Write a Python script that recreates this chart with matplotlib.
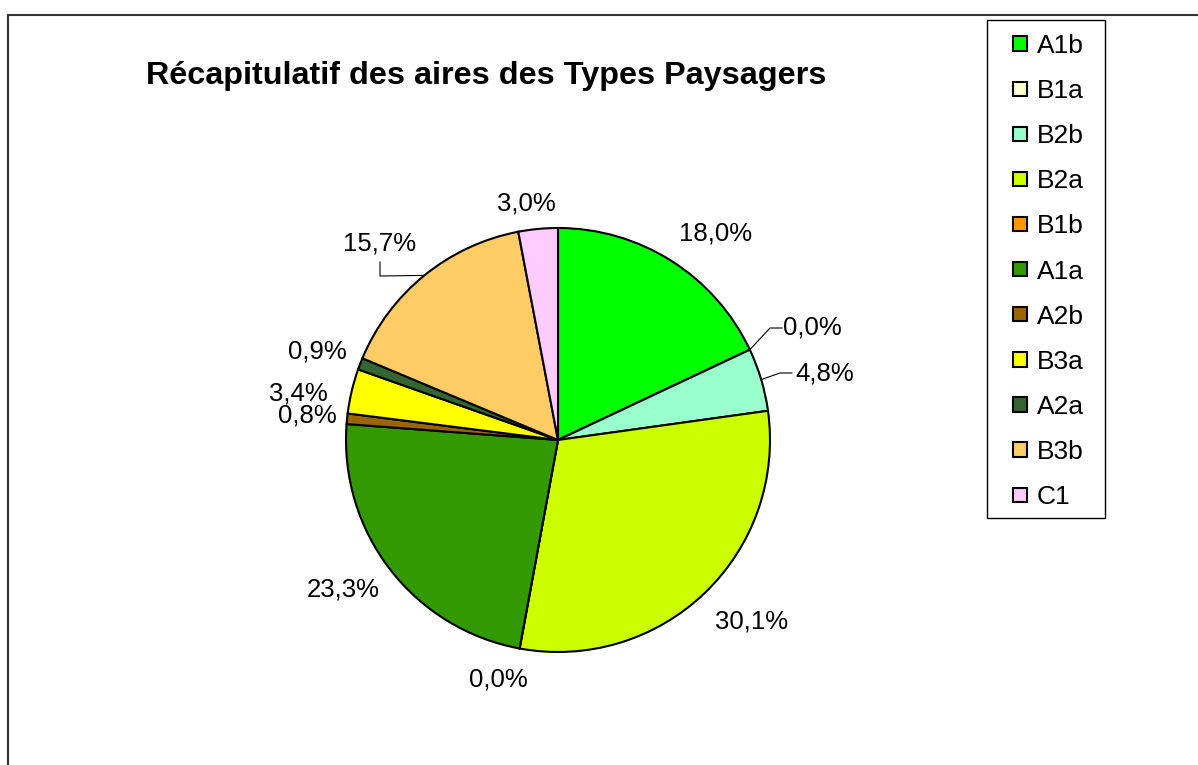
import numpy as np
import matplotlib
matplotlib.use("Agg")
import matplotlib.pyplot as plt
from matplotlib.patches import Rectangle

plt.rcParams["font.family"] = ["Liberation Sans", "DejaVu Sans"]

# Landscape types and their share of total area (%)
types = ["A1b", "B1a", "B2b", "B2a", "B1b", "A1a", "A2b", "B3a", "A2a", "B3b", "C1"]
shares = [18.0, 0.0, 4.8, 30.1, 0.0, 23.3, 0.8, 3.4, 0.9, 15.7, 3.0]
colors = ["#00FF00", "#FFFFCC", "#99FFCC", "#CCFF00", "#FF9900", "#339900",
          "#996600", "#FFFF00", "#336633", "#FFCC66", "#FFCCFF"]
title = "Récapitulatif des aires des Types Paysagers"

W, H, DPI = 1198, 765, 100
CX, CY, R = 558, 440, 212          # pie centre / radius in pixels

# label centres (pixels) and which labels get a leader line
label_px = [(716, 234), (812, 327), (825, 374), (752, 622), (498, 680),
            (343, 590), (307, 415), (298, 393), (317, 352), (380, 243), (526, 203)]
leaders = {1: [(770, 328), (782, 328)],
           2: [(780, 373), (792, 373)],
           9: [(380, 276), (380, 262)]}


def to_data(px, py):
    return (px - CX) / R, (CY - py) / R


fig = plt.figure(figsize=(W / DPI, H / DPI), dpi=DPI)
fig.patch.set_facecolor("white")

ax = fig.add_axes([0, 0, 1, 1])
wedges, _ = ax.pie(shares, colors=colors, startangle=90, counterclock=False,
                   radius=1.0,
                   wedgeprops=dict(edgecolor="black", linewidth=1.5))
ax.set_aspect("auto")
ax.set_xlim(-CX / R, (W - CX) / R)
ax.set_ylim(-(H - CY) / R, CY / R)
ax.axis("off")

# percentage labels
for i, (v, (px, py)) in enumerate(zip(shares, label_px)):
    txt = f"{v:.1f}%".replace(".", ",")
    x, y = to_data(px, py)
    ax.text(x, y, txt, ha="center", va="center", fontsize=18.5, color="black")

# leader lines from the wedge edge to the label
for i, pts in leaders.items():
    w = wedges[i]
    mid = np.deg2rad((w.theta1 + w.theta2) / 2)
    xs = [np.cos(mid)] + [to_data(*p)[0] for p in pts]
    ys = [np.sin(mid)] + [to_data(*p)[1] for p in pts]
    ax.plot(xs, ys, color="black", lw=0.8)

fig.text(486 / W, 1 - 76 / H, title, ha="center", va="center",
         fontsize=23.3, fontweight="bold")

# legend entries, with a separate box drawn around them
leg = fig.legend(wedges, types, loc="upper left",
                 bbox_to_anchor=(1013 / W, 1 - 34 / H),
                 fontsize=19, handlelength=0.53, handleheight=0.46,
                 handletextpad=0.38, labelspacing=0.8, borderpad=0,
                 borderaxespad=0, frameon=False)
for h in leg.legend_handles:
    h.set_linewidth(1.5)
    h.set_edgecolor("black")

fig.patches.append(Rectangle((987 / W, 1 - 518 / H), 118 / W, 498 / H,
                             transform=fig.transFigure, fill=False,
                             edgecolor="black", linewidth=1.0))

# chart area border
fig.patches.append(Rectangle((8 / W, -0.1), 1.2, 1 - 15 / H + 0.1,
                             transform=fig.transFigure, fill=False,
                             edgecolor="#333333", linewidth=1.5))

fig.savefig("out.png", dpi=DPI, facecolor="white")
